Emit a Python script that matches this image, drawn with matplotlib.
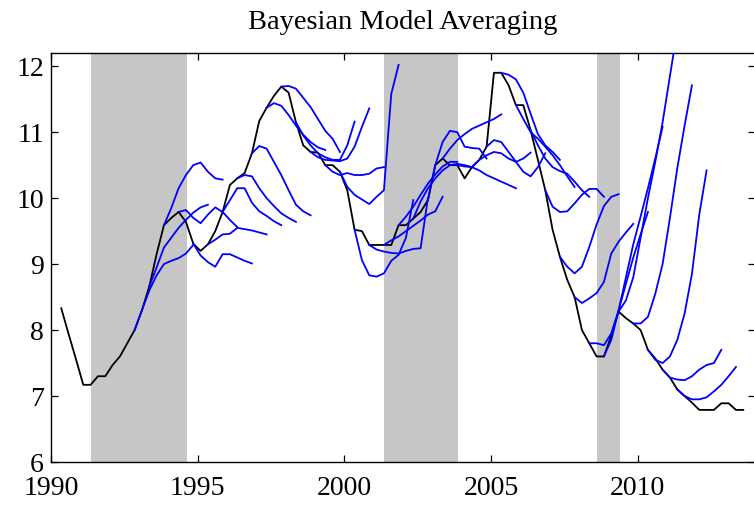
import numpy as np
import matplotlib
matplotlib.use("Agg")
import matplotlib.pyplot as plt

plt.rcParams['font.family'] = ['Liberation Serif', 'DejaVu Serif']

# ---- actual series (quarterly, first observation 1990.35) ----
actual_start = 1990.35
actual = [8.33, 7.94, 7.56, 7.17, 7.17, 7.30, 7.30, 7.47, 7.60, 7.80,
          8.00, 8.30, 8.66, 9.15, 9.59, 9.70, 9.79, 9.64, 9.31, 9.20,
          9.30, 9.50, 9.79, 10.20, 10.30, 10.38, 10.68, 11.17, 11.37, 11.55,
          11.69, 11.60, 11.15, 10.80, 10.70, 10.69, 10.50, 10.50, 10.40, 10.12,
          9.52, 9.50, 9.29, 9.29, 9.29, 9.29, 9.59, 9.59, 9.69, 9.79,
          9.97, 10.50, 10.60, 10.50, 10.50, 10.30, 10.47, 10.58, 10.78, 11.90,
          11.90, 11.71, 11.41, 11.41, 11.03, 10.58, 10.12, 9.52, 9.11, 8.76,
          8.50, 8.00, 7.80, 7.60, 7.60, 7.92, 8.28, 8.18, 8.10, 8.00,
          7.70, 7.57, 7.40, 7.28, 7.10, 7.00, 6.90, 6.79, 6.79, 6.79,
          6.89, 6.89, 6.79, 6.79]

# ---- recession bands ----
rec_start = [1991.35, 2001.35, 2008.62]
rec_end = [1994.62, 2003.88, 2009.40]

# ---- BMA forecast paths (origin date, 8 quarters ahead) ----
fc_origins = [1992.85, 1993.35, 1993.85, 1994.35, 1994.85, 1995.35, 1995.85,
              1996.35, 1996.85, 1997.35, 1997.85, 1998.35, 1998.85, 1999.35,
              1999.85, 2000.35, 2000.85, 2001.35, 2001.85, 2002.35, 2002.85,
              2003.35, 2003.85, 2004.35, 2004.85, 2005.35, 2005.85, 2006.35,
              2006.85, 2007.35, 2007.85, 2008.35, 2008.85, 2009.35, 2009.85,
              2010.35, 2010.85, 2011.35]
f1992_85 = [8.00, 8.30, 8.60, 8.83, 9.00, 9.05, 9.09, 9.16, 9.29]
f1993_35 = [8.66, 8.95, 9.25, 9.40, 9.55, 9.67, 9.78, 9.86, 9.90]
f1993_85 = [9.59, 9.85, 10.15, 10.35, 10.50, 10.54, 10.40, 10.30, 10.28]
f1994_35 = [9.79, 9.82, 9.70, 9.62, 9.75, 9.86, 9.79, 9.67, 9.56]
f1994_85 = [9.31, 9.13, 9.03, 8.96, 9.15, 9.15, 9.10, 9.05, 9.01]
f1995_35 = [9.30, 9.37, 9.45, 9.46, 9.55, 9.53, 9.51, 9.48, 9.45]
f1995_85 = [9.79, 9.97, 10.15, 10.15, 9.93, 9.80, 9.73, 9.65, 9.59]
f1996_35 = [10.30, 10.35, 10.33, 10.15, 10.00, 9.88, 9.77, 9.70, 9.64]
f1996_85 = [10.68, 10.79, 10.75, 10.55, 10.35, 10.12, 9.90, 9.80, 9.74]
f1997_35 = [11.37, 11.44, 11.40, 11.26, 11.10, 10.96, 10.85, 10.77, 10.73]
f1997_85 = [11.69, 11.70, 11.66, 11.52, 11.38, 11.20, 11.02, 10.90, 10.70]
f1998_35 = [11.15, 10.95, 10.80, 10.68, 10.62, 10.58, 10.58, 10.80, 11.16]
f1998_85 = [10.70, 10.62, 10.58, 10.57, 10.56, 10.60, 10.78, 11.08, 11.36]
f1999_35 = [10.50, 10.40, 10.35, 10.38, 10.35, 10.35, 10.37, 10.45, 10.47]
f1999_85 = [10.40, 10.17, 10.05, 9.98, 9.91, 10.02, 10.12, 11.58, 12.02]
f2000_35 = [9.52, 9.06, 8.83, 8.81, 8.86, 9.05, 9.14, 9.40, 9.97]
f2000_85 = [9.29, 9.22, 9.19, 9.17, 9.16, 9.20, 9.23, 9.24, 10.00]
f2001_35 = [9.29, 9.36, 9.42, 9.50, 9.58, 9.66, 9.75, 9.80, 10.02]
f2001_85 = [9.59, 9.72, 9.87, 10.05, 10.22, 10.36, 10.48, 10.55, 10.55]
f2002_35 = [9.69, 9.95, 10.15, 10.30, 10.42, 10.50, 10.52, 10.50, 10.47]
f2002_85 = [9.97, 10.50, 10.85, 11.02, 11.00, 10.78, 10.76, 10.75, 10.60]
f2003_35 = [10.60, 10.75, 10.88, 10.97, 11.05, 11.10, 11.15, 11.20, 11.27]
f2003_85 = [10.50, 10.48, 10.47, 10.42, 10.35, 10.30, 10.25, 10.20, 10.15]
f2004_35 = [10.47, 10.58, 10.65, 10.70, 10.68, 10.60, 10.55, 10.60, 10.69]
f2004_85 = [10.78, 10.88, 10.85, 10.70, 10.55, 10.40, 10.33, 10.47, 10.68]
f2005_35 = [11.90, 11.87, 11.80, 11.60, 11.28, 10.97, 10.80, 10.70, 10.58]
f2005_85 = [11.41, 11.20, 11.00, 10.90, 10.78, 10.65, 10.50, 10.33, 10.17]
f2006_35 = [11.03, 10.80, 10.60, 10.47, 10.41, 10.37, 10.25, 10.12, 10.02]
f2006_85 = [10.12, 9.87, 9.79, 9.80, 9.92, 10.05, 10.14, 10.14, 10.02]
f2007_35 = [9.11, 8.96, 8.86, 8.96, 9.26, 9.60, 9.88, 10.02, 10.06]
f2007_85 = [8.50, 8.41, 8.48, 8.56, 8.73, 9.16, 9.34, 9.48, 9.61]
f2008_35 = [7.80, 7.80, 7.77, 7.95, 8.30, 8.70, 9.10, 9.45, 9.79]
f2008_85 = [7.60, 7.85, 8.30, 8.80, 9.30, 9.72, 10.15, 10.60, 11.08]
f2009_35 = [8.28, 8.45, 8.80, 9.40, 10.00, 10.55, 11.15, 11.85, 12.55]
f2009_85 = [8.10, 8.10, 8.20, 8.55, 9.00, 9.70, 10.45, 11.10, 11.71]
f2010_35 = [7.70, 7.55, 7.50, 7.60, 7.85, 8.25, 8.85, 9.75, 10.42]
f2010_85 = [7.40, 7.28, 7.25, 7.24, 7.30, 7.40, 7.47, 7.50, 7.70]
f2011_35 = [7.10, 7.00, 6.95, 6.95, 6.98, 7.07, 7.17, 7.30, 7.44]

forecasts = [f1992_85, f1993_35, f1993_85, f1994_35, f1994_85, f1995_35, f1995_85,
             f1996_35, f1996_85, f1997_35, f1997_85, f1998_35, f1998_85, f1999_35,
             f1999_85, f2000_35, f2000_85, f2001_35, f2001_85, f2002_35, f2002_85,
             f2003_35, f2003_85, f2004_35, f2004_85, f2005_35, f2005_85, f2006_35,
             f2006_85, f2007_35, f2007_85, f2008_35, f2008_85, f2009_35, f2009_85,
             f2010_35, f2010_85, f2011_35]

xticks = [1990, 1995, 2000, 2005, 2010]
yticks = [6, 7, 8, 9, 10, 11, 12]
title = "Bayesian Model Averaging"

fig = plt.figure(figsize=(7.54, 5.05), dpi=100)
W, H = 754, 505
ax = fig.add_axes([51 / W, (H - 462) / H, (755 - 51) / W, (462 - 53) / H])

for a, b in zip(rec_start, rec_end):
    ax.axvspan(a, b, color='#c6c6c6', lw=0, zorder=0)

t_act = actual_start + 0.25 * np.arange(len(actual))
ax.plot(t_act, actual, color='black', lw=1.3, zorder=2)

for origin, vals in zip(fc_origins, forecasts):
    t = origin + 0.25 * np.arange(len(vals))
    ax.plot(t, vals, color=(0, 0, 1), lw=1.3, zorder=3)

ax.set_xlim(1990, 2014)
ax.set_ylim(6, 12.2)
ax.set_xticks(xticks)
ax.set_yticks(yticks)
ax.tick_params(direction='in', top=True, right=True, length=5, width=0.9,
               labelsize=20, pad=5)
ax.tick_params(axis='x', pad=10)
for s in ax.spines.values():
    s.set_linewidth(1.0)
ax.set_title(title, fontsize=20.5, pad=17)

fig.savefig("out.png", dpi=100)
